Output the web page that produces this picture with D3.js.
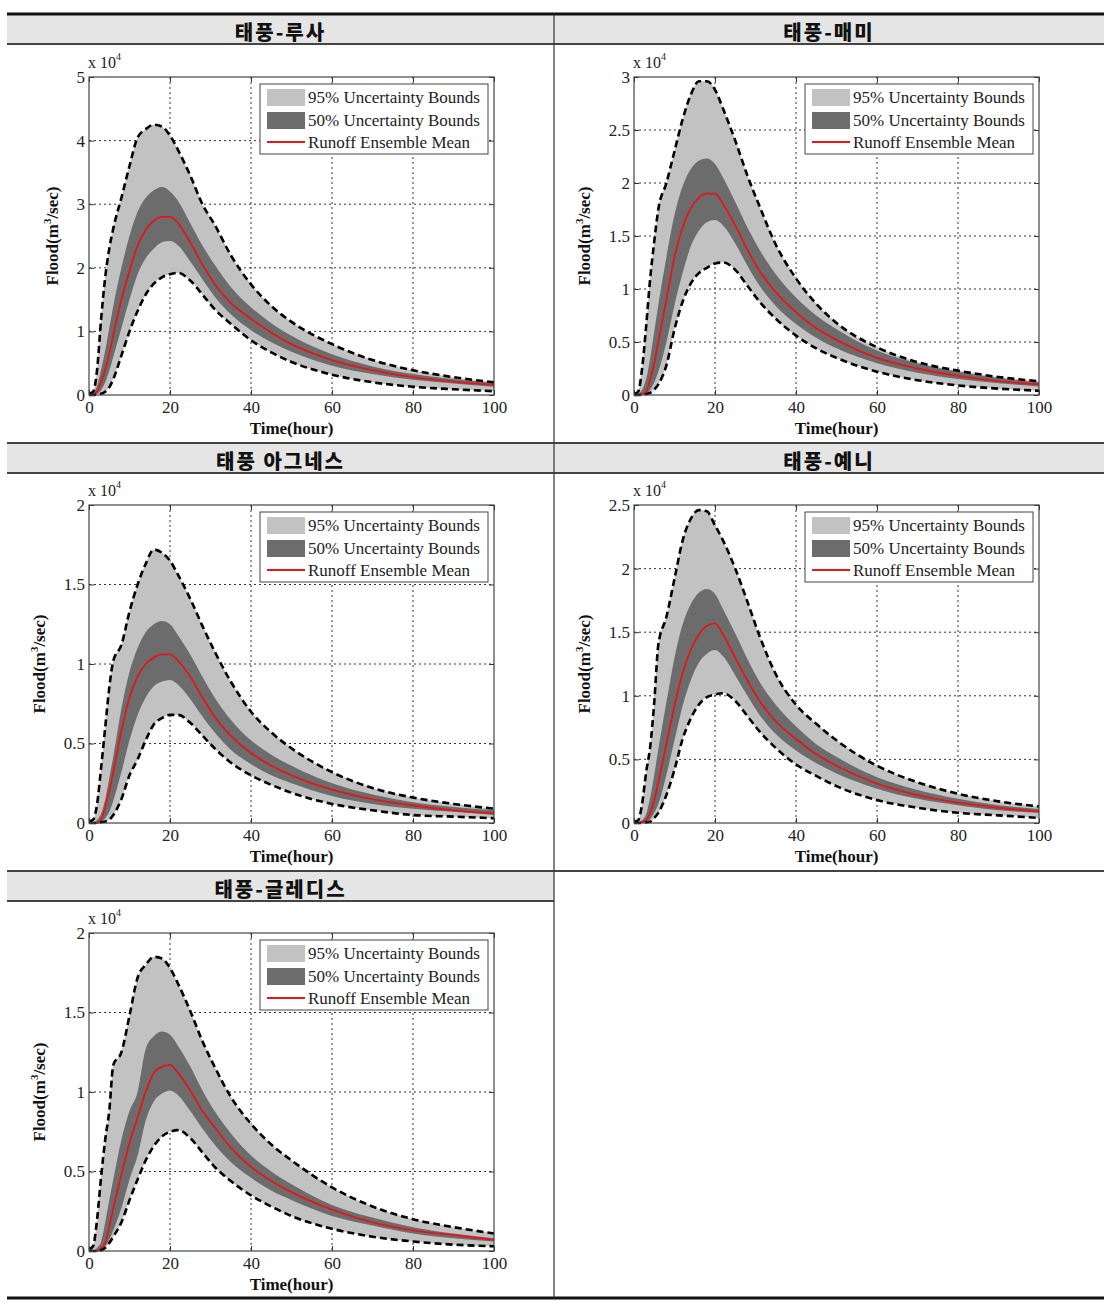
<!DOCTYPE html>
<html><head><meta charset="utf-8">
<script src="https://cdn.jsdelivr.net/npm/d3@7"></script>
<style>body{margin:0;background:#fff}</style>
</head><body><svg id="c" width="1108" height="1305"></svg>
<script>
// ---------- DATA (flood values in units of 10^4 m3/sec) ----------
const hours = [0,1,2,3,4,5,6,8,10,12,14,16,18,20,22,25,28,31,35,40,45,50,60,70,80,90,100];
const titles = ["태풍-루사","태풍-매미","태풍 아그네스","태풍-예니","태풍-글레디스"];
const yMax = [5,3,2,2.5,2];
const yTicks = [[0,1,2,3,4,5],[0,0.5,1,1.5,2,2.5,3],[0,0.5,1,1.5,2],[0,0.5,1,1.5,2,2.5],[0,0.5,1,1.5,2]];
const xTicks = [0,20,40,60,80,100];
const legendLabels = ["95% Uncertainty Bounds","50% Uncertainty Bounds","Runoff Ensemble Mean"];
const xLabel = "Time(hour)";

const upper95 = [
  [0.02,0.05,0.4,1.2,1.85,2.3,2.62,3.1,3.6,4.05,4.18,4.25,4.22,4.08,3.85,3.45,3.0,2.68,2.2,1.74,1.4,1.15,0.8,0.55,0.39,0.28,0.2],
  [0.01,0.03,0.25,0.65,1.1,1.45,1.75,2.0,2.3,2.6,2.83,2.96,2.96,2.88,2.7,2.4,2.07,1.78,1.42,1.1,0.86,0.68,0.45,0.31,0.23,0.17,0.13],
  [0.01,0.02,0.12,0.35,0.6,0.85,1.02,1.12,1.33,1.5,1.63,1.72,1.7,1.65,1.56,1.41,1.24,1.08,0.89,0.7,0.57,0.47,0.32,0.22,0.16,0.12,0.09],
  [0.01,0.02,0.15,0.4,0.6,0.95,1.4,1.62,1.92,2.22,2.39,2.46,2.45,2.34,2.22,2.0,1.74,1.47,1.17,0.93,0.78,0.65,0.45,0.32,0.23,0.17,0.13],
  [0.01,0.03,0.2,0.47,0.7,0.88,1.17,1.25,1.48,1.72,1.8,1.85,1.84,1.78,1.68,1.51,1.32,1.16,0.97,0.8,0.67,0.57,0.4,0.28,0.2,0.15,0.11]
];
const upper50 = [
  [0,0.02,0.15,0.4,0.7,1.05,1.4,2.0,2.5,2.88,3.1,3.22,3.27,3.2,3.05,2.7,2.35,2.05,1.7,1.38,1.13,0.93,0.64,0.45,0.33,0.25,0.19],
  [0,0.01,0.05,0.15,0.35,0.6,0.85,1.3,1.7,1.97,2.13,2.21,2.23,2.18,2.05,1.82,1.58,1.37,1.14,0.92,0.75,0.62,0.42,0.3,0.22,0.16,0.12],
  [0,0,0.02,0.06,0.15,0.28,0.42,0.72,0.95,1.1,1.2,1.25,1.27,1.25,1.18,1.06,0.92,0.79,0.65,0.52,0.43,0.36,0.25,0.18,0.13,0.1,0.08],
  [0,0,0.02,0.07,0.2,0.38,0.58,0.95,1.3,1.56,1.72,1.81,1.84,1.8,1.68,1.49,1.29,1.11,0.93,0.76,0.62,0.52,0.36,0.26,0.19,0.14,0.11],
  [0,0,0.02,0.06,0.18,0.32,0.45,0.7,0.88,1.0,1.27,1.35,1.38,1.36,1.29,1.16,1.01,0.88,0.74,0.6,0.5,0.42,0.29,0.21,0.15,0.11,0.08]
];
const meanRunoff = [
  [0,0,0.05,0.2,0.4,0.65,0.95,1.5,1.95,2.35,2.6,2.74,2.8,2.8,2.7,2.4,2.05,1.75,1.45,1.2,0.98,0.8,0.55,0.39,0.28,0.21,0.16],
  [0,0,0.01,0.03,0.15,0.3,0.5,0.9,1.3,1.58,1.76,1.86,1.9,1.9,1.8,1.6,1.37,1.17,0.97,0.78,0.63,0.52,0.35,0.25,0.18,0.13,0.1],
  [0,0,0,0.02,0.1,0.2,0.32,0.58,0.79,0.92,1.0,1.04,1.06,1.06,1.02,0.92,0.79,0.67,0.55,0.44,0.36,0.3,0.21,0.15,0.11,0.08,0.06],
  [0,0,0.01,0.02,0.08,0.18,0.32,0.62,0.92,1.18,1.36,1.48,1.55,1.57,1.48,1.3,1.12,0.96,0.8,0.66,0.54,0.45,0.31,0.22,0.16,0.12,0.09],
  [0,0,0,0.02,0.05,0.15,0.27,0.48,0.68,0.84,1.0,1.12,1.16,1.17,1.12,1.01,0.88,0.78,0.65,0.53,0.44,0.37,0.26,0.18,0.13,0.1,0.07]
];
const lower50 = [
  [0,0,0.02,0.08,0.2,0.38,0.6,1.05,1.5,1.9,2.15,2.3,2.4,2.42,2.35,2.1,1.82,1.55,1.27,1.02,0.83,0.68,0.46,0.33,0.24,0.18,0.13],
  [0,0,0,0.01,0.05,0.12,0.22,0.5,0.85,1.15,1.4,1.55,1.63,1.65,1.6,1.43,1.22,1.03,0.84,0.67,0.54,0.44,0.3,0.21,0.15,0.11,0.08],
  [0,0,0,0.01,0.03,0.07,0.14,0.32,0.52,0.68,0.79,0.86,0.89,0.9,0.87,0.78,0.67,0.57,0.46,0.37,0.3,0.25,0.17,0.12,0.09,0.07,0.05],
  [0,0,0,0.01,0.03,0.08,0.15,0.38,0.65,0.92,1.12,1.26,1.33,1.36,1.31,1.16,1.0,0.85,0.7,0.57,0.47,0.39,0.27,0.19,0.14,0.1,0.08],
  [0,0,0,0.01,0.03,0.07,0.13,0.27,0.45,0.6,0.82,0.94,0.99,1.01,0.98,0.88,0.77,0.67,0.56,0.46,0.38,0.32,0.22,0.16,0.11,0.08,0.06]
];
const lower95 = [
  [0,0,0.01,0.02,0.05,0.12,0.25,0.62,1.0,1.32,1.58,1.75,1.85,1.9,1.92,1.8,1.58,1.35,1.12,0.86,0.67,0.52,0.32,0.2,0.13,0.09,0.06],
  [0,0,0,0.01,0.02,0.05,0.1,0.28,0.62,0.88,1.05,1.15,1.2,1.24,1.25,1.18,1.03,0.88,0.72,0.56,0.44,0.35,0.22,0.14,0.09,0.06,0.04],
  [0,0,0,0.005,0.01,0.02,0.05,0.15,0.3,0.4,0.52,0.62,0.66,0.68,0.68,0.63,0.55,0.47,0.38,0.3,0.24,0.19,0.12,0.08,0.05,0.04,0.03],
  [0,0,0,0.005,0.01,0.04,0.08,0.22,0.42,0.66,0.82,0.93,0.99,1.01,1.02,0.96,0.84,0.72,0.59,0.46,0.37,0.29,0.18,0.12,0.08,0.06,0.04],
  [0,0,0,0.005,0.02,0.05,0.09,0.18,0.32,0.45,0.57,0.66,0.72,0.75,0.76,0.71,0.62,0.53,0.44,0.35,0.28,0.22,0.14,0.09,0.06,0.04,0.03]
];

// ---------- LAYOUT ----------
const svg = d3.select("#c");
const tableL = 7, tableR = 1104, mid = 554, bottomY = 1298;
const headerRows = [[14,44],[443,473],[871,901]];
const SERIF = "'Liberation Serif','Times New Roman',serif";
const KR = "'Noto Sans CJK KR','Noto Sans CJK SC',sans-serif";
const C_LIGHT = "#c2c2c2", C_DARK = "#6c6c6c", C_RED = "#e3161c";

headerRows.forEach((h,i)=>{
  svg.append("rect").attr("x",tableL).attr("y",h[0])
    .attr("width",(i===2?mid:tableR)-tableL).attr("height",h[1]-h[0]).attr("fill","#e5e5e5");
});
function hline(x1,x2,y,w,c){svg.append("line").attr("x1",x1).attr("x2",x2).attr("y1",y).attr("y2",y).attr("stroke",c).attr("stroke-width",w);}
hline(tableL,tableR,14,3,"#111");
hline(tableL,tableR,44,2,"#444");
hline(tableL,tableR,443,2,"#444");
hline(tableL,tableR,473,2,"#444");
hline(tableL,tableR,871,2,"#444");
hline(tableL,mid,901,2,"#444");
hline(tableL,tableR,bottomY,3,"#111");
svg.append("line").attr("x1",mid).attr("x2",mid).attr("y1",14).attr("y2",bottomY).attr("stroke","#333").attr("stroke-width",1.2);

// ---------- PANELS ----------
titles.forEach((title,i)=>{
  const col = i%2, row = Math.floor(i/2);
  const x0 = col? 634 : 89, x1 = x0 + 405;
  const y0 = [77,505,933][row], y1 = y0 + 318;
  const cellCx = col ? (mid+tableR)/2 : (tableL+mid)/2;

  svg.append("text").attr("x",cellCx).attr("y",(headerRows[row][0]+headerRows[row][1])/2+2)
    .attr("text-anchor","middle").attr("dominant-baseline","central")
    .attr("font-family",KR).attr("font-weight",900).attr("font-size",20)
    .attr("letter-spacing",2).attr("fill","#111").text(title);

  const x = d3.scaleLinear().domain([0,100]).range([x0,x1]);
  const y = d3.scaleLinear().domain([0,yMax[i]]).range([y1,y0]);
  const g = svg.append("g");

  g.append("g").selectAll("line").data(xTicks.slice(1,-1)).join("line")
    .attr("x1",d=>x(d)).attr("x2",d=>x(d)).attr("y1",y0).attr("y2",y1)
    .attr("stroke","#333").attr("stroke-width",1).attr("stroke-dasharray","2,3");
  g.append("g").selectAll("line").data(yTicks[i].slice(1,-1)).join("line")
    .attr("y1",d=>y(d)).attr("y2",d=>y(d)).attr("x1",x0).attr("x2",x1)
    .attr("stroke","#333").attr("stroke-width",1).attr("stroke-dasharray","2,3");

  const pts = hours.map((h,k)=>({h,u95:upper95[i][k],u50:upper50[i][k],m:meanRunoff[i][k],l50:lower50[i][k],l95:lower95[i][k]}));
  const curve = d3.curveMonotoneX;
  g.append("path").datum(pts).attr("fill",C_LIGHT)
    .attr("d",d3.area().x(d=>x(d.h)).y0(d=>y(d.l95)).y1(d=>y(d.u95)).curve(curve));
  g.append("path").datum(pts).attr("fill",C_DARK)
    .attr("d",d3.area().x(d=>x(d.h)).y0(d=>y(d.l50)).y1(d=>y(d.u50)).curve(curve));
  g.append("path").datum(pts).attr("fill","none").attr("stroke",C_RED).attr("stroke-width",1.8)
    .attr("d",d3.line().x(d=>x(d.h)).y(d=>y(d.m)).curve(curve));
  ["u95","l95"].forEach(k=>{
    g.append("path").datum(pts).attr("fill","none").attr("stroke","#000").attr("stroke-width",2.6)
      .attr("stroke-dasharray","7,4")
      .attr("d",d3.line().x(d=>x(d.h)).y(d=>y(d[k])).curve(curve));
  });

  const styleAxis = sel => {
    sel.select(".domain").remove();
    sel.selectAll(".tick line").attr("stroke","#333");
    sel.selectAll("text").attr("font-family",SERIF).attr("font-size",17).attr("fill","#222");
  };
  g.append("g").attr("transform",`translate(0,${y1})`)
    .call(d3.axisBottom(x).tickValues(xTicks).tickSize(-5).tickPadding(6).tickFormat(d=>d)).call(styleAxis);
  g.append("g").attr("transform",`translate(0,${y0})`)
    .call(d3.axisTop(x).tickValues(xTicks).tickSize(-5).tickFormat("")).call(styleAxis);
  g.append("g").attr("transform",`translate(${x0},0)`)
    .call(d3.axisLeft(y).tickValues(yTicks[i]).tickSize(-5).tickPadding(4).tickFormat(d=>d)).call(styleAxis);
  g.append("g").attr("transform",`translate(${x1},0)`)
    .call(d3.axisRight(y).tickValues(yTicks[i]).tickSize(-5).tickFormat("")).call(styleAxis);
  g.append("rect").attr("x",x0).attr("y",y0).attr("width",x1-x0).attr("height",y1-y0)
    .attr("fill","none").attr("stroke","#444").attr("stroke-width",1.2);

  const ex = g.append("text").attr("x",x0-1).attr("y",y0-9)
    .attr("font-family",SERIF).attr("font-size",16).attr("fill","#222");
  ex.append("tspan").text("x 10");
  ex.append("tspan").attr("dy",-8).attr("font-size",10).text("4");

  g.append("text").attr("x",(x0+x1)/2).attr("y",y1+39).attr("text-anchor","middle")
    .attr("font-family",SERIF).attr("font-weight","bold").attr("font-size",17).attr("fill","#111").text(xLabel);
  const ylx = yTicks[i].some(v=>v%1!==0) ? x0-44 : x0-31;
  const yl = g.append("text").attr("transform",`translate(${ylx},${(y0+y1)/2}) rotate(-90)`)
    .attr("text-anchor","middle").attr("font-family",SERIF).attr("font-weight","bold")
    .attr("font-size",17).attr("fill","#111");
  yl.append("tspan").text("Flood(m");
  yl.append("tspan").attr("dy",-7).attr("font-size",11).text("3");
  yl.append("tspan").attr("dy",7).text("/sec)");

  const lw = 228, lh = 70, lx = x1-6-lw, ly = y0+7;
  const lg = g.append("g").attr("transform",`translate(${lx},${ly})`);
  lg.append("rect").attr("width",lw).attr("height",lh).attr("fill","#fff").attr("stroke","#444").attr("stroke-width",1);
  lg.append("rect").attr("x",7).attr("y",5).attr("width",38).attr("height",17).attr("fill",C_LIGHT);
  lg.append("rect").attr("x",7).attr("y",28).attr("width",38).attr("height",17).attr("fill",C_DARK);
  lg.append("line").attr("x1",7).attr("x2",45).attr("y1",58).attr("y2",58).attr("stroke",C_RED).attr("stroke-width",2);
  legendLabels.forEach((t,k)=>{
    lg.append("text").attr("x",48).attr("y",[19,42,64][k]).attr("font-family",SERIF)
      .attr("font-size",17).attr("fill","#222").text(t);
  });
});
</script>
</body></html>
